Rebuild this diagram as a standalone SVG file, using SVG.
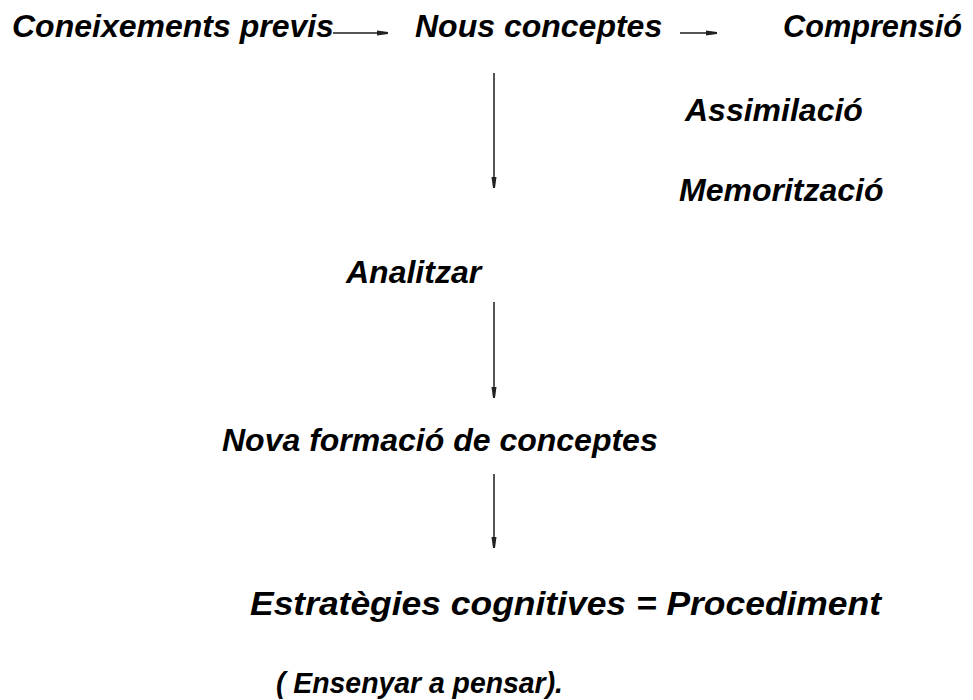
<svg xmlns="http://www.w3.org/2000/svg" width="973" height="700" viewBox="0 0 973 700">
<defs>
<style>
text{font-family:"Liberation Sans",Arial,sans-serif;font-weight:bold;font-style:italic;font-size:32px;fill:#000}
.c{stroke:#555;stroke-width:2;fill:none}
</style>
<marker id="ah" markerWidth="12" markerHeight="6" refX="11" refY="3" orient="auto" markerUnits="userSpaceOnUse">
<path d="M0,0.5 L11,2 L11,4 L0,5.5 Z" fill="#222"/>
</marker>
</defs>
<rect width="973" height="700" fill="#fff"/>
<g id="n1"><text x="12" y="37">Coneixements previs</text></g>
<g id="n2"><text x="415" y="37">Nous conceptes</text></g>
<g id="n3"><text x="783" y="37" textLength="179" lengthAdjust="spacingAndGlyphs">Comprensió</text></g>
<g id="n4"><text x="685" y="121">Assimilació</text></g>
<g id="n5"><text x="679" y="201">Memorització</text></g>
<g id="n6"><text x="346" y="283">Analitzar</text></g>
<g id="n7"><text x="222" y="451">Nova formació de conceptes</text></g>
<g id="n8"><text x="250" y="615" style="font-size:34px" textLength="631" lengthAdjust="spacingAndGlyphs">Estratègies cognitives =  Procediment</text></g>
<g id="n9"><text x="276" y="693" style="font-size:30px" textLength="287" lengthAdjust="spacingAndGlyphs">( Ensenyar a pensar).</text></g>
<g id="connectors">
<line class="c" x1="333" y1="33" x2="388" y2="33" marker-end="url(#ah)"/>
<line class="c" x1="680" y1="33" x2="717" y2="33" marker-end="url(#ah)"/>
<line class="c" x1="494" y1="73" x2="494" y2="188" marker-end="url(#ah)"/>
<line class="c" x1="494" y1="302" x2="494" y2="398" marker-end="url(#ah)"/>
<line class="c" x1="494" y1="474" x2="494" y2="548" marker-end="url(#ah)"/>
</g>
</svg>
